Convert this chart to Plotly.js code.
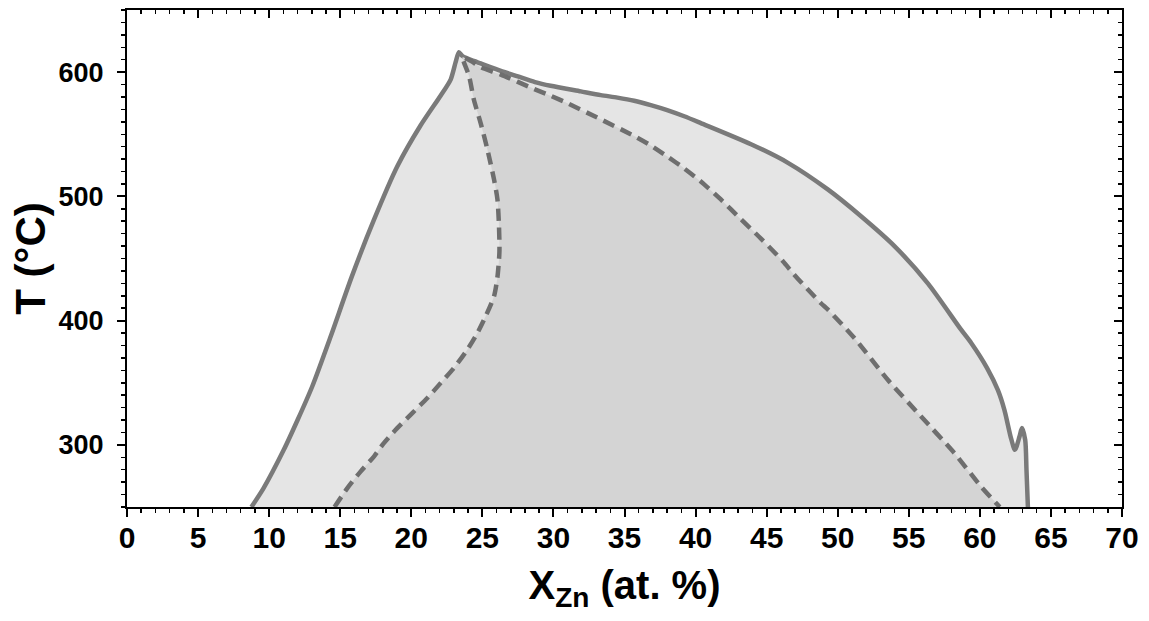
<!DOCTYPE html>
<html>
<head>
<meta charset="utf-8">
<script src="https://cdn.plot.ly/plotly-3.0.1.min.js"></script>
<style>html,body{margin:0;padding:0;background:#fff;}#chart{width:1149px;height:621px;}</style>
</head>
<body>
<div id="chart"></div>
<script>
// Outer boundary (solid line), X_Zn (at.%) vs T (°C)
const outerX = [8.75, 9.6, 11.03, 12.0, 13.03, 14.32, 15.8, 17.37, 19.01, 20.65, 22.06, 22.77, 23.12, 23.35, 23.6, 24.4, 24.88, 26.3, 27.5, 28.7, 29.8, 31.92, 33.33, 34.5, 35.68, 36.85, 38.0, 39.2, 40.37, 43.9, 46.5, 49.3, 51.64, 53.99, 56.34, 58.68, 59.39, 60.5, 61.27, 61.73, 62.2, 62.47, 62.79, 62.96, 63.19, 63.28, 63.38];
const outerT = [250, 265, 296, 320, 347, 387, 435, 481, 524, 557, 581, 594, 608, 616, 613, 609, 607, 601, 596.5, 592, 589, 584.5, 581.5, 579.5, 577, 573.5, 569.5, 564.5, 559, 542, 527, 505.6, 484, 460, 430, 392.7, 382, 362, 344, 328, 305, 296, 306.7, 313.5, 304, 280, 250];

// Inner boundary (dashed line)
const innerX = [14.6, 15.49, 16.43, 17.37, 18.07, 19.01, 20.07, 21.13, 22.06, 23.0, 23.94, 24.65, 25.23, 25.82, 26.06, 26.2, 26.17, 26.06, 25.82, 25.35, 24.88, 24.4, 24.06, 23.7, 23.6, 24.2, 24.88, 26.3, 28.63, 29.8, 30.98, 33.33, 35.68, 36.85, 38.03, 39.2, 40.37, 41.78, 43.2, 44.6, 46.13, 46.94, 48.82, 49.3, 51.17, 53.52, 55.87, 58.21, 60.09, 61.27, 61.4];
const innerT = [250, 265, 278.5, 290.6, 301.4, 313.5, 325.6, 337.7, 349.7, 361.9, 376.6, 390, 403.5, 419.6, 435, 455, 476, 497.6, 513.7, 538, 559, 578, 597, 608, 612, 609, 604, 598, 586.5, 581, 575, 562, 548.6, 541, 532, 522.5, 512, 497.5, 481.5, 466, 448, 437, 414, 409, 386, 352.4, 322.8, 293.3, 266.4, 251.6, 250];

// Empty series that only carries the mirrored (top/right) axes
const frameX = [];
const frameY = [];

const xRange = [0, 70];
const yRange = [250, 650];

const FONT = 'Liberation Sans, Arial, Helvetica, sans-serif';

const traces = [
  {
    x: outerX, y: outerT, type: 'scatter', mode: 'lines',
    fill: 'toself', fillcolor: '#e5e5e5',
    line: {color: '#7a7a7a', width: 4.5, shape: 'spline', smoothing: 0.7},
    hoverinfo: 'skip', showlegend: false
  },
  {
    x: innerX, y: innerT, type: 'scatter', mode: 'lines',
    fill: 'toself', fillcolor: '#d4d4d4',
    line: {color: '#6e6e6e', width: 4.5, dash: '12px,7px', shape: 'spline', smoothing: 0.7},
    hoverinfo: 'skip', showlegend: false
  },
  {
    x: frameX, y: frameY, xaxis: 'x2', yaxis: 'y2', type: 'scatter', mode: 'lines',
    hoverinfo: 'skip', showlegend: false
  }
];

const layout = {
  width: 1149, height: 621,
  margin: {l: 127, r: 27, t: 10, b: 114},
  paper_bgcolor: '#ffffff', plot_bgcolor: '#ffffff',
  showlegend: false,
  xaxis: {
    range: xRange, dtick: 5, tick0: 0,
    ticks: 'outside', ticklen: 8, tickwidth: 2, tickcolor: '#000',
    minor: {dtick: 1, ticks: 'outside', ticklen: 4, tickwidth: 1.5, tickcolor: '#000'},
    showline: true, linecolor: '#000', linewidth: 2,
    showgrid: false, zeroline: false,
    ticklabelstandoff: -5,
    tickfont: {family: FONT, size: 30, color: '#000', weight: 'bold'},
    title: {text: 'X<sub>Zn</sub> (at. %)', standoff: 18, font: {family: FONT, size: 40, color: '#000', weight: 'bold'}}
  },
  yaxis: {
    range: yRange, dtick: 100, tick0: 0,
    ticks: 'outside', ticklen: 8, tickwidth: 2, tickcolor: '#000',
    minor: {dtick: 10, ticks: 'outside', ticklen: 4, tickwidth: 1.5, tickcolor: '#000'},
    showline: true, linecolor: '#000', linewidth: 2,
    showgrid: false, zeroline: false,
    ticklabelstandoff: 8,
    tickfont: {family: FONT, size: 27, color: '#000', weight: 'bold'},
    title: {text: 'T (°C)', standoff: 0, font: {family: FONT, size: 42, color: '#000', weight: 'bold'}}
  },
  xaxis2: {
    overlaying: 'x', side: 'top', anchor: 'y2', range: xRange, dtick: 5, tick0: 0,
    ticks: 'inside', ticklen: 8, tickwidth: 2, tickcolor: '#000',
    minor: {dtick: 1, ticks: 'inside', ticklen: 4, tickwidth: 1.5, tickcolor: '#000'},
    showline: true, linecolor: '#000', linewidth: 2,
    showticklabels: false, showgrid: false, zeroline: false
  },
  yaxis2: {
    overlaying: 'y', side: 'right', anchor: 'x2', range: yRange, dtick: 100, tick0: 0,
    ticks: 'inside', ticklen: 8, tickwidth: 2, tickcolor: '#000',
    minor: {dtick: 10, ticks: 'inside', ticklen: 4, tickwidth: 1.5, tickcolor: '#000'},
    showline: true, linecolor: '#000', linewidth: 2,
    showticklabels: false, showgrid: false, zeroline: false
  }
};

Plotly.newPlot('chart', traces, layout, {displayModeBar: false, staticPlot: true});
</script>
</body>
</html>
